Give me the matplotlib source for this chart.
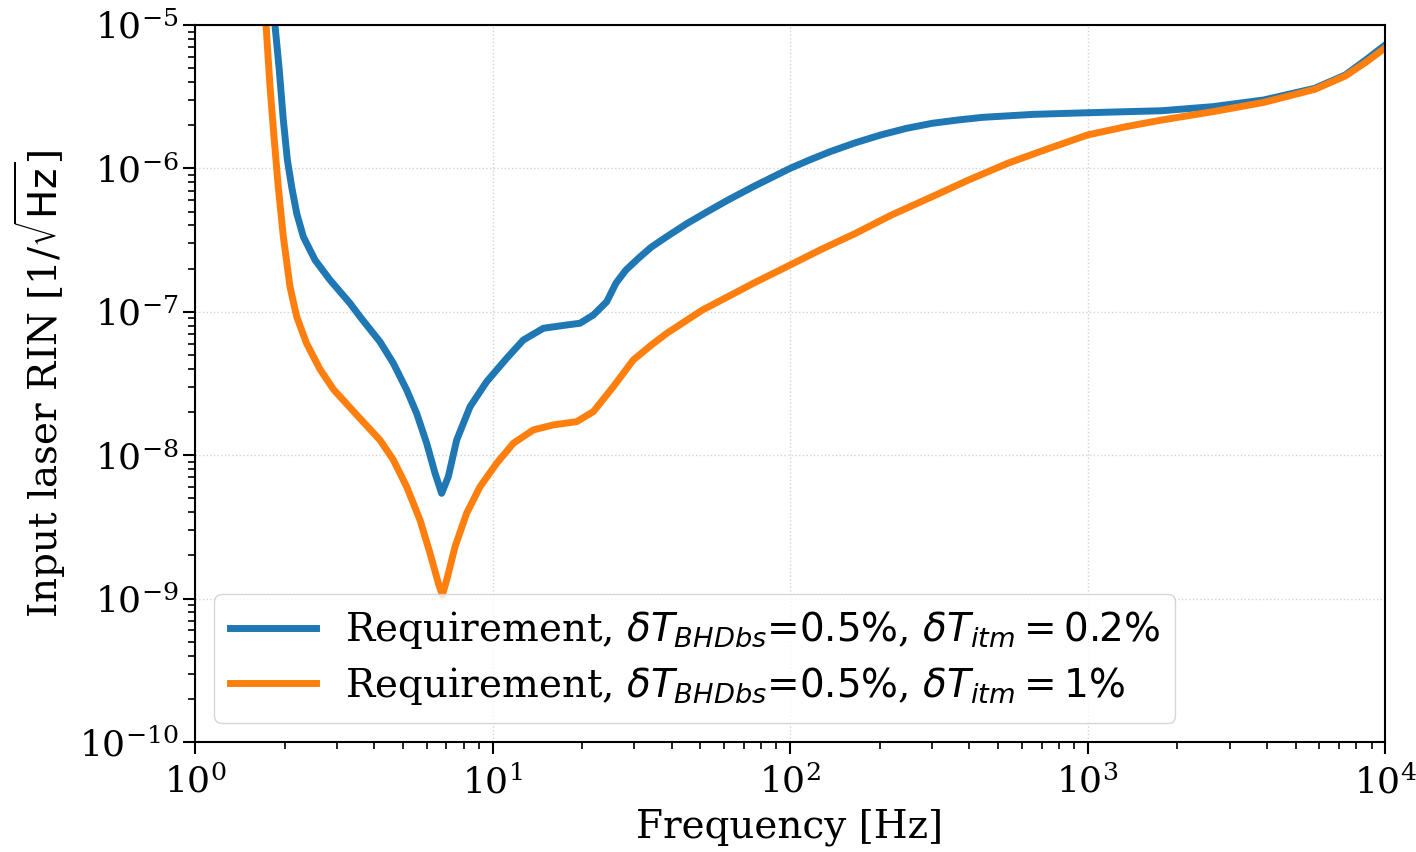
"""
Input laser RIN requirement vs frequency, two ITM transmission imbalances
"""

import matplotlib
matplotlib.use('Agg')
import matplotlib.pyplot as plt

plt.rcParams['font.family'] = 'DejaVu Serif'
plt.rcParams['mathtext.fontset'] = 'dejavusans'

freq_itm02 = [1.818, 1.857, 1.920, 1.981, 2.044, 2.113, 2.197, 2.312, 2.532, 2.843,
              3.319, 3.586, 4.185, 4.642, 5.146, 5.559, 6.008, 6.409, 6.745, 7.103,
              7.578, 8.403, 9.559, 11.16, 12.69, 14.82, 17.76, 19.68, 21.83, 24.20,
              26.0, 28.05, 30.90, 34.12, 38.46, 45.08, 52.72, 61.80, 75.16, 100,
              116.1, 136.1, 166.0, 201.8, 246.0, 299.9, 365.6, 444.6, 660.7, 1000,
              1774, 2630, 3908, 5794, 7345, 8610, 10000]
rin_itm02 = [1.585e-5, 1.0e-5, 4.853e-6, 2.178e-6, 1.146e-6, 7.447e-7, 4.864e-7, 3.342e-7, 2.296e-7, 1.667e-7,
             1.146e-7, 9.247e-8, 6.180e-8, 4.375e-8, 2.851e-8, 1.959e-8, 1.211e-8, 7.482e-9, 5.420e-9, 7.079e-9,
             1.276e-8, 2.178e-8, 3.258e-8, 4.742e-8, 6.353e-8, 7.674e-8, 8.091e-8, 8.318e-8, 9.506e-8, 1.175e-7,
             1.585e-7, 1.950e-7, 2.355e-7, 2.818e-7, 3.334e-7, 4.130e-7, 4.989e-7, 6.012e-7, 7.447e-7, 1.0e-6,
             1.143e-6, 1.306e-6, 1.510e-6, 1.710e-6, 1.901e-6, 2.061e-6, 2.173e-6, 2.270e-6, 2.382e-6, 2.443e-6,
             2.523e-6, 2.692e-6, 2.999e-6, 3.614e-6, 4.477e-6, 5.702e-6, 7.244e-6]

freq_itm1 = [1.708, 1.733, 1.787, 1.843, 1.905, 1.981, 2.086, 2.197, 2.371, 2.630,
             2.917, 3.499, 4.185, 4.642, 5.146, 5.705, 6.166, 6.577, 6.783, 7.015,
             7.482, 8.185, 9.078, 10.33, 11.75, 13.71, 16.00, 19.19, 21.83, 25.47,
             29.72, 34.12, 38.46, 50.70, 61.80, 75.16, 100, 125.9, 166.0, 218.8,
             299.9, 398.1, 542.0, 743.0, 1000, 1346, 1774, 2630, 3908, 5794,
             7345, 8610, 10000]
rin_itm1 = [1.585e-5, 1.0e-5, 3.715e-6, 1.663e-6, 7.447e-7, 3.342e-7, 1.496e-7, 9.247e-8, 6.026e-8, 3.981e-8,
            2.884e-8, 1.905e-8, 1.276e-8, 9.268e-9, 6.026e-9, 3.532e-9, 2.070e-9, 1.279e-9, 1.059e-9, 1.349e-9,
            2.301e-9, 3.936e-9, 6.026e-9, 8.790e-9, 1.211e-8, 1.500e-8, 1.626e-8, 1.714e-8, 2.014e-8, 3.006e-8,
            4.613e-8, 5.848e-8, 7.063e-8, 1.028e-7, 1.274e-7, 1.578e-7, 2.118e-7, 2.692e-7, 3.524e-7, 4.721e-7,
            6.339e-7, 8.299e-7, 1.090e-6, 1.380e-6, 1.710e-6, 1.954e-6, 2.173e-6, 2.483e-6, 2.884e-6, 3.556e-6,
            4.406e-6, 5.495e-6, 6.918e-6]

labels = [r'Requirement, $\delta T_{BHDbs}$=$0.5\%$, $\delta T_{itm} = 0.2\%$',
          r'Requirement, $\delta T_{BHDbs}$=$0.5\%$, $\delta T_{itm} = 1\%$']

fig = plt.figure(figsize=(14.16, 8.52), dpi=100)
ax = fig.add_axes([0.1377, 0.1291, 0.8405, 0.8416])

ax.loglog(freq_itm02, rin_itm02, color='#1f77b4', lw=5, label=labels[0])
ax.loglog(freq_itm1, rin_itm1, color='#ff7f0e', lw=5, label=labels[1])

ax.set_xlim(1, 1e4)
ax.set_ylim(1e-10, 1e-5)
ax.grid(True, which='major', ls=':', color='lightgray', lw=1)
ax.tick_params(labelsize=26, width=1.5, length=8.5)
ax.tick_params(axis='x', pad=8)
ax.tick_params(axis='y', pad=3)
ax.tick_params(which='minor', width=1.2, length=5)
for s in ax.spines.values():
    s.set_linewidth(1.5)

ax.set_xlabel('Frequency [Hz]', fontsize=28, labelpad=6)
ax.set_ylabel(r'Input laser RIN [1/$\sqrt{\mathrm{Hz}}$]', fontsize=28, labelpad=8)
ax.legend(loc='lower left', fontsize=28, handlelength=2.2, handletextpad=0.75,
          labelspacing=0.35)

fig.savefig('out.png', dpi=100)
